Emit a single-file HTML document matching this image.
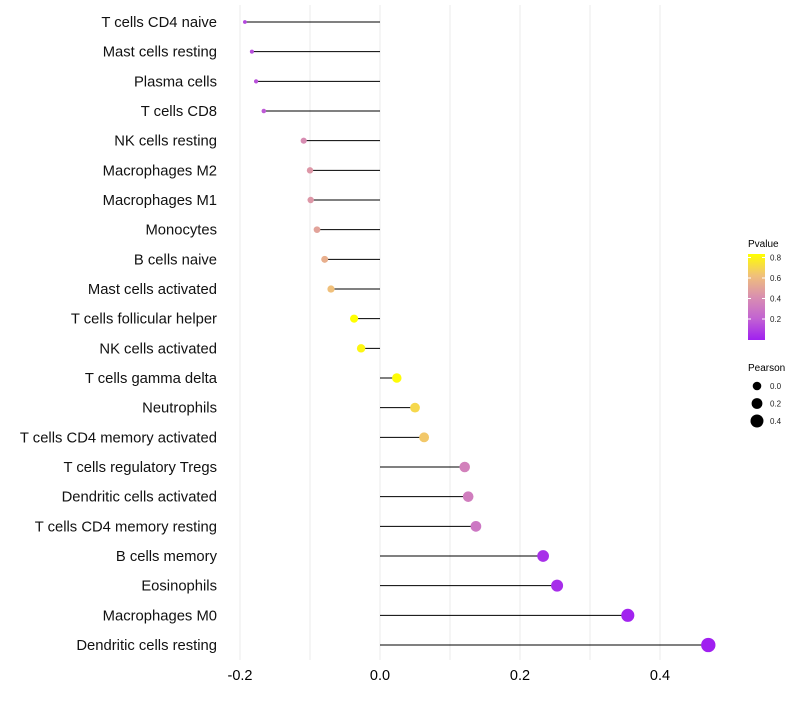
<!DOCTYPE html>
<html><head><meta charset="utf-8"><style>
body{margin:0;background:#fff;font-family:"Liberation Sans",sans-serif}
svg text{font-family:"Liberation Sans",sans-serif}
</style></head><body>
<svg id="chart" width="800" height="700" xmlns="http://www.w3.org/2000/svg">
<defs><linearGradient id="pg" x1="0" y1="1" x2="0" y2="0">
<stop offset="0" stop-color="#a020f0"/><stop offset="0.25" stop-color="#c263d2"/><stop offset="0.5" stop-color="#d98fb0"/><stop offset="0.75" stop-color="#f0c07a"/><stop offset="1" stop-color="#ffff00"/></linearGradient></defs>
<g id="grid"></g><g id="marks"></g><g id="ylab"></g><g id="xlab"></g>
<g>
<text x="748" y="247" font-size="10">Pvalue</text>
<rect x="748" y="254" width="17" height="86" fill="url(#pg)"/>
<g id="cbticks"></g>
</g>
<g>
<text x="748" y="371" font-size="10">Pearson</text>
<g id="sizeleg"></g>
</g>
</svg>
<script>
const categories=["T cells CD4 naive","Mast cells resting","Plasma cells","T cells CD8","NK cells resting","Macrophages M2","Macrophages M1","Monocytes","B cells naive","Mast cells activated","T cells follicular helper","NK cells activated","T cells gamma delta","Neutrophils","T cells CD4 memory activated","T cells regulatory  Tregs ","Dendritic cells activated","T cells CD4 memory resting","B cells memory","Eosinophils","Macrophages M0","Dendritic cells resting"];
const pearson=[-0.193,-0.183,-0.177,-0.166,-0.109,-0.100,-0.099,-0.090,-0.079,-0.070,-0.037,-0.027,0.024,0.050,0.063,0.121,0.126,0.137,0.233,0.253,0.354,0.469];
const pvalue=[0.12,0.14,0.15,0.18,0.4,0.45,0.45,0.5,0.55,0.62,0.83,0.8,0.82,0.7,0.65,0.35,0.33,0.3,0.05,0.04,0.01,0.001];
const xTicks=[-0.2,0,0.2,0.4];
const xTickLabels=["-0.2","0.0","0.2","0.4"];
const xMinor=[-0.1,0.1,0.3];
const cbTicks=[0.2,0.4,0.6,0.8];
const sizeVals=[0.0,0.2,0.4];
const NS="http://www.w3.org/2000/svg";
const X=v=>380+v*700;
const Y=i=>22+i*29.667;
const R=v=>v>=0?4.6+5.5*v:Math.max(1.5,4.6+14*v);
function lerp(a,b,t){return a.map((x,i)=>Math.round(x+(b[i]-x)*t));}
const stops=[[0,[160,32,240]],[0.207,[194,99,210]],[0.415,[217,143,176]],[0.622,[240,192,122]],[0.83,[255,255,0]]];
function col(p){if(p>=0.83)return "rgb(255,255,0)";for(let k=0;k<stops.length-1;k++){if(p<=stops[k+1][0]){const t=(p-stops[k][0])/(stops[k+1][0]-stops[k][0]);return "rgb("+lerp(stops[k][1],stops[k+1][1],t).join(",")+")";}}}
function mk(tag,at,parent){const e=document.createElementNS(NS,tag);for(const k in at)e.setAttribute(k,at[k]);document.getElementById(parent).appendChild(e);return e;}
xMinor.concat(xTicks).forEach(v=>{const l=mk("line",{x1:X(v),x2:X(v),y1:5,y2:660,stroke:"#ebebeb","stroke-width":1},"grid");

});
xTicks.forEach((v,i)=>{const t=mk("text",{x:X(v),y:680,"font-size":14.5,"text-anchor":"middle",fill:"#000"},"xlab");t.textContent=xTickLabels[i];

});
categories.forEach((c,i)=>{
const t=mk("text",{x:217,y:Y(i)+5,"font-size":14.8,"text-anchor":"end",fill:"#111"},"ylab");t.textContent=c;


const l=mk("line",{x1:X(0),x2:X(pearson[i]),y1:Y(i),y2:Y(i),stroke:"#000","stroke-width":1},"marks");


const d=mk("circle",{cx:X(pearson[i]),cy:Y(i),r:R(pearson[i]),fill:col(pvalue[i])},"marks");


});
cbTicks.forEach(v=>{const y=339.5-v*102.5;
const t=mk("text",{x:770,y:y+3,"font-size":8,fill:"#222"},"cbticks");t.textContent=v.toFixed(1);


mk("line",{x1:748,x2:751,y1:y,y2:y,stroke:"#fff"},"cbticks");mk("line",{x1:762,x2:765,y1:y,y2:y,stroke:"#fff"},"cbticks");});
sizeVals.forEach((v,i)=>{const y=386+i*17.5;
const c=mk("circle",{cx:757,cy:y,r:R(v)-0.3,fill:"#000"},"sizeleg");


const t=mk("text",{x:770,y:y+3,"font-size":8,fill:"#222"},"sizeleg");t.textContent=v.toFixed(1);

});
</script>
</body></html>
